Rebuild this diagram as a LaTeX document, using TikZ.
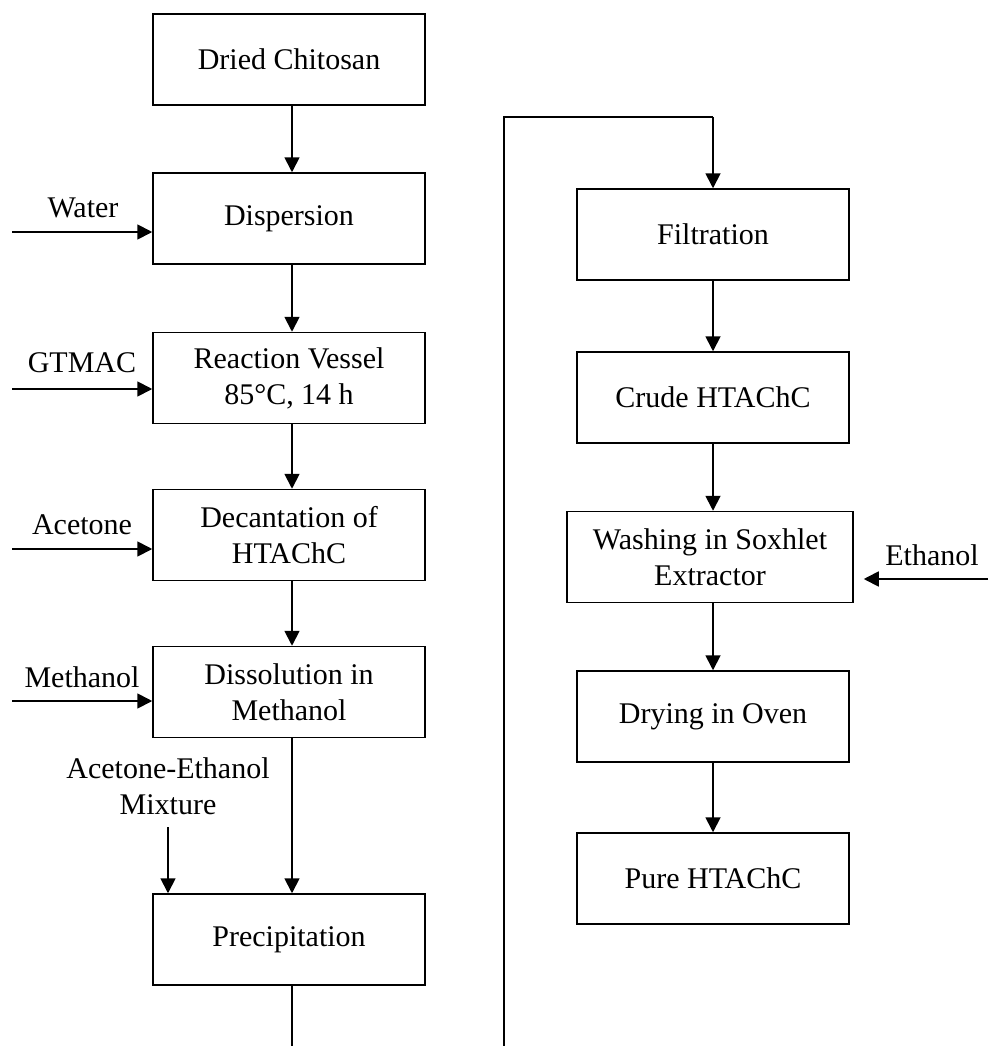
\documentclass[tikz,border=0pt]{standalone}
\usepackage{fontspec}
\setmainfont{Liberation Serif}
\usetikzlibrary{arrows.meta}
\begin{document}
\begin{tikzpicture}[x=1pt,y=-1pt,
  stepbox/.style={draw,line width=1.5pt,minimum width=272pt,minimum height=91pt,inner sep=0pt,align=center,font=\fontsize{30}{36}\selectfont},
  lbl/.style={inner sep=0pt,align=center,font=\fontsize{30}{36}\selectfont},
  arr/.style={line width=1.8pt,-{Triangle[length=15pt,width=15pt]}},
  ln/.style={line width=1.8pt}]
\useasboundingbox (0,0) rectangle (988,1046);
% left column
\node[stepbox] (dried) at (289,59.5) {Dried Chitosan};
\node[stepbox] (disp) at (289,218.5) {Dispersion};
\node[stepbox] (react) at (289,378) {Reaction Vessel\\85°C, 14 h};
\node[stepbox] (decant) at (289,535) {Decantation of\\HTAChC};
\node[stepbox] (dissol) at (289,692) {Dissolution in\\Methanol};
\node[stepbox] (precip) at (289,939.5) {Precipitation};
% right column
\node[stepbox] (filt) at (713,234.5) {Filtration};
\node[stepbox] (crude) at (713,397.5) {Crude HTAChC};
\node[stepbox,minimum width=286pt] (wash) at (710,557) {Washing in Soxhlet\\Extractor};
\node[stepbox] (dry) at (713,716.5) {Drying in Oven};
\node[stepbox] (pure) at (713,878.5) {Pure HTAChC};
% labels
\node[lbl] (lwater) at (83,208) {Water};
\node[lbl] (lgtmac) at (82,363) {GTMAC};
\node[lbl] (lacet) at (82,525) {Acetone};
\node[lbl] (lmeth) at (82,677) {Methanol};
\node[lbl] (lmix) at (168,786) {Acetone-Ethanol\\Mixture};
\node[lbl] (leth) at (932,555) {Ethanol};
% coordinates
\coordinate (swater) at (12,232);
\coordinate (sgtmac) at (12,389);
\coordinate (sacet) at (12,549);
\coordinate (smeth) at (12,701);
\coordinate (smix) at (168,827);
\coordinate (seth) at (988,579);
\coordinate (pbot) at (292,1046);
\coordinate (rbot) at (504,1046);
\coordinate (rtop) at (504,117);
\coordinate (ftop) at (713,117);
% main vertical arrows
\draw[arr] ([xshift=3pt]dried.south) -- ([xshift=3pt]disp.north);
\draw[arr] ([xshift=3pt]disp.south) -- ([xshift=3pt]react.north);
\draw[arr] ([xshift=3pt]react.south) -- ([xshift=3pt]decant.north);
\draw[arr] ([xshift=3pt]decant.south) -- ([xshift=3pt]dissol.north);
\draw[arr] ([xshift=3pt]dissol.south) -- ([xshift=3pt]precip.north);
\draw[ln] ([xshift=3pt]precip.south) -- (pbot);
\draw[ln] (rbot) -- (rtop) -- (ftop);
\draw[arr] (ftop) -- (filt.north);
\draw[arr] (filt.south) -- (crude.north);
\draw[arr] (crude.south) -- (crude.south |- wash.north);
\draw[arr] (crude.south |- wash.south) -- (dry.north);
\draw[arr] (dry.south) -- (pure.north);
% inputs
\draw[arr] (swater) -- (swater -| disp.west);
\draw[arr] (sgtmac) -- (sgtmac -| react.west);
\draw[arr] (sacet) -- (sacet -| decant.west);
\draw[arr] (smeth) -- (smeth -| dissol.west);
\draw[arr] (smix) -- (smix |- precip.north);
\draw[arr,shorten >=10pt] (seth) -- (seth -| wash.east);
\end{tikzpicture}
\end{document}
